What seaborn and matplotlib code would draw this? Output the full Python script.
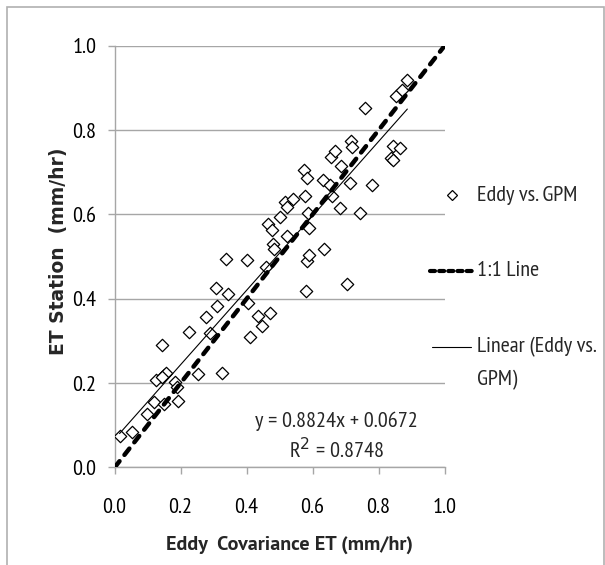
import numpy as np
import pandas as pd
import matplotlib
matplotlib.use("Agg")
import matplotlib.pyplot as plt
from matplotlib.patches import Rectangle
from matplotlib.lines import Line2D
import seaborn as sns

# Eddy covariance ET (x) vs ET station (y), mm/hr
eddy_et = [0.015, 0.054, 0.098, 0.124, 0.118, 0.143, 0.149, 0.155, 0.143, 0.149,
           0.184, 0.190, 0.192, 0.225, 0.252, 0.277, 0.289, 0.307, 0.310, 0.326,
           0.339, 0.345, 0.402, 0.404, 0.411, 0.434, 0.448, 0.470, 0.458, 0.466,
           0.476, 0.481, 0.484, 0.502, 0.516, 0.522, 0.522, 0.542, 0.575, 0.577,
           0.583, 0.586, 0.590, 0.583, 0.589, 0.580, 0.633, 0.635, 0.654, 0.659,
           0.656, 0.668, 0.685, 0.683, 0.703, 0.712, 0.717, 0.720, 0.744, 0.759,
           0.779, 0.837, 0.843, 0.845, 0.866, 0.852, 0.872, 0.887]
station_et = [0.074, 0.085, 0.127, 0.207, 0.156, 0.290, 0.220, 0.224, 0.214, 0.151,
              0.203, 0.190, 0.157, 0.321, 0.221, 0.356, 0.318, 0.426, 0.382, 0.224,
              0.495, 0.412, 0.491, 0.391, 0.309, 0.359, 0.335, 0.366, 0.476, 0.577,
              0.563, 0.529, 0.519, 0.593, 0.630, 0.617, 0.549, 0.636, 0.705, 0.643,
              0.686, 0.604, 0.568, 0.489, 0.505, 0.418, 0.682, 0.519, 0.671, 0.643,
              0.737, 0.750, 0.716, 0.615, 0.436, 0.674, 0.775, 0.760, 0.603, 0.852,
              0.671, 0.735, 0.728, 0.762, 0.758, 0.881, 0.895, 0.918]

# trendline from the chart's equation
slope = 0.8824
intercept = 0.0672
r_squared = 0.8748

one_to_one = [0.0, 1.0]
ticks = [0.0, 0.2, 0.4, 0.6, 0.8, 1.0]

df = pd.DataFrame({"eddy": eddy_et, "station": station_et})

sns.set_style("white")
plt.rcParams["font.family"] = ["PT Sans Narrow", "DejaVu Sans"]

grey = "#a6a6a6"
fs = 16
fig = plt.figure(figsize=(6.05, 5.65), dpi=100)
ax = fig.add_axes([0.1894, 0.1726, 0.5455, 0.7464])

sns.scatterplot(data=df, x="eddy", y="station", marker="D", s=40,
                facecolor="white", edgecolor="black", linewidth=0.9,
                ax=ax, zorder=3, legend=False)

ax.plot(one_to_one, one_to_one, color="black", lw=3.2,
        dashes=(1.8, 1.8), dash_capstyle="round", zorder=4)

xfit = np.array([min(eddy_et), max(eddy_et)])
ax.plot(xfit, slope * xfit + intercept, color="black", lw=0.8, zorder=5)

ax.set_xlim(0, 1)
ax.set_ylim(0, 1)
ax.set_xticks(ticks)
ax.set_yticks(ticks)
ax.set_xticklabels([f"{t:.1f}" for t in ticks])
ax.set_yticklabels([f"{t:.1f}" for t in ticks])
ax.tick_params(axis="both", labelsize=fs, colors=grey, labelcolor="black",
               length=5, width=1, direction="out")
ax.tick_params(axis="y", pad=8, left=True)
ax.tick_params(axis="x", pad=17, bottom=True)

ax.grid(axis="y", color=grey, lw=1)
ax.grid(axis="x", visible=False)
for side in ["top", "right"]:
    ax.spines[side].set_visible(False)
for side in ["left", "bottom"]:
    ax.spines[side].set_color(grey)
    ax.spines[side].set_linewidth(1)

ax.set_xlabel("Eddy  Covariance ET (mm/hr)", fontsize=14.5, fontweight="bold",
              family="PT Sans")
ax.xaxis.set_label_coords(0.53, -0.162)
ax.set_ylabel("ET Station  (mm/hr)", fontsize=13.5, fontweight="bold",
              family="DejaVu Sans")
ax.yaxis.set_label_coords(-0.14, 0.512)

ax.text(0.671, 0.11, f"y = {slope}x + {intercept}", fontsize=fs,
        ha="center", va="center")
ax.text(0.671, 0.042, f"R$^2$ = {r_squared}", fontsize=fs,
        ha="center", va="center")

# legend, Excel-style on the right
tr = ax.transAxes
ax.add_line(Line2D([1.0224], [0.646], marker="D", ms=5, mfc="white",
                   mec="black", mew=0.9, transform=tr, clip_on=False))
ax.add_line(Line2D([0.955, 1.086], [0.4667, 0.4667], color="black", lw=3.0,
                   dashes=(1.2, 1.0), dash_capstyle="round",
                   transform=tr, clip_on=False))
ax.add_line(Line2D([0.962, 1.080], [0.2865, 0.2865], color="black", lw=0.8,
                   transform=tr, clip_on=False))
ax.text(1.098, 0.646, "Eddy vs. GPM", fontsize=fs, va="center", transform=tr)
ax.text(1.098, 0.4667, "1:1 Line", fontsize=fs, va="center", transform=tr)
ax.text(1.098, 0.2865, "Linear (Eddy vs.", fontsize=fs, va="center", transform=tr)
ax.text(1.098, 0.2075, "GPM)", fontsize=fs, va="center", transform=tr)

# chart area border
fig.patches.append(Rectangle((7 / 605, -0.05), 597 / 605, 1.05 - 6.5 / 565,
                             transform=fig.transFigure, fill=False,
                             edgecolor="#b0b0b0", lw=1.2))

fig.savefig("out.png", dpi=100)
